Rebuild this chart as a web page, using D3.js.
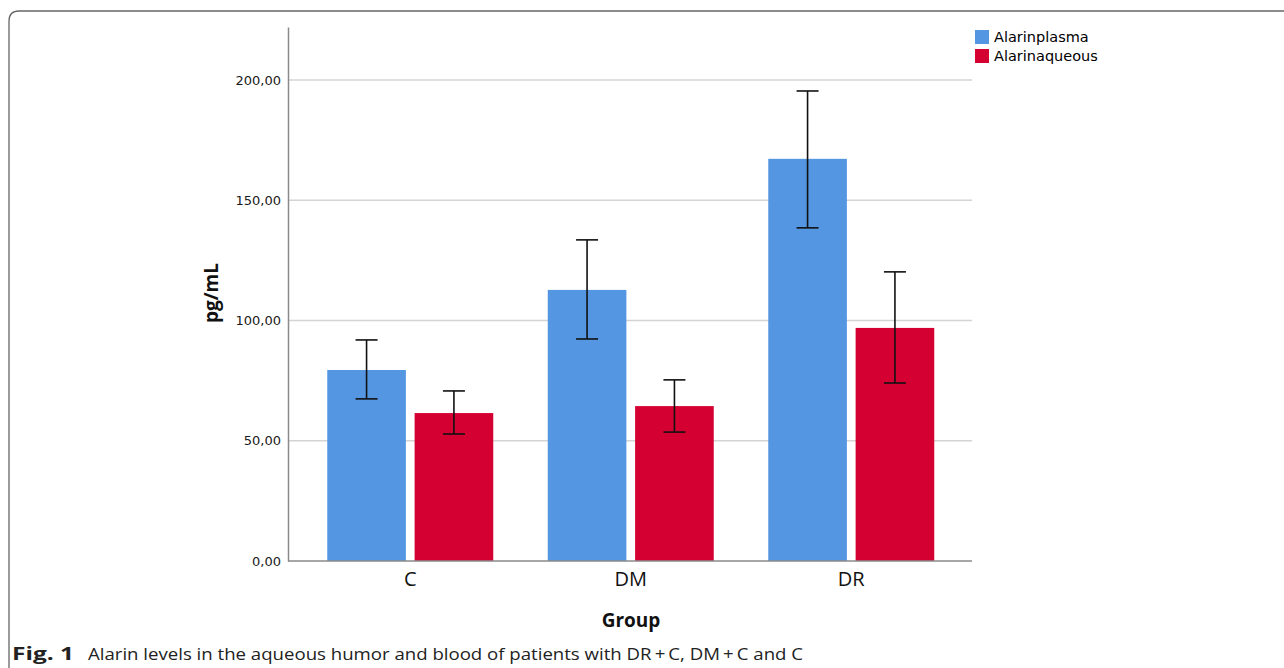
<!DOCTYPE html>
<html>
<head>
<meta charset="utf-8">
<script src="https://cdn.jsdelivr.net/npm/d3@7"></script>
<style>
  body { margin: 0; background: #fff; }
  svg { display: block; }
</style>
</head>
<body>
<div id="chart"></div>
<script>
// data
var groups = ["C", "DM", "DR"];
var seriesNames = ["Alarinplasma", "Alarinaqueous"];
var plasmaMean = [79.4, 112.7, 167.2];
var plasmaLow = [67.4, 92.3, 138.5];
var plasmaHigh = [91.9, 133.5, 195.4];
var aqueousMean = [61.5, 64.4, 96.9];
var aqueousLow = [52.8, 53.6, 74.0];
var aqueousHigh = [70.7, 75.3, 120.2];
var yTicks = [0, 50, 100, 150, 200];

var colors = ["#5596e3", "#d50032"];

var svgWidth = 1284, svgHeight = 668;

var svg = d3.select("#chart").append("svg")
    .attr("width", svgWidth)
    .attr("height", svgHeight);

// frame around the figure
svg.append("path")
    .attr("d", "M9,700 L9,21 Q9,11 19,11 L1300,11")
    .attr("fill", "none")
    .attr("stroke", "#666")
    .attr("stroke-width", 1.3);

// scales
var x = d3.scaleBand().domain(groups).range([300, 961.5]);
var y = d3.scaleLinear().domain([0, 222]).range([561, 27]);

var table = groups.map(function(g, i) {
    return [
        { group: g, s: 0, mean: plasmaMean[i], lo: plasmaLow[i], hi: plasmaHigh[i] },
        { group: g, s: 1, mean: aqueousMean[i], lo: aqueousLow[i], hi: aqueousHigh[i] }
    ];
}).flat();

var sub = d3.scaleBand().domain([0, 1]).range([-83, 83]).paddingInner(0.1);

// gridlines
svg.append("g").selectAll("line")
    .data(yTicks.slice(1))
    .enter().append("line")
        .attr("x1", 289).attr("x2", 972)
        .attr("y1", function(d) { return y(d); })
        .attr("y2", function(d) { return y(d); })
        .attr("stroke", "#d4d4d4")
        .attr("stroke-width", 1.5);

// bars
svg.append("g").selectAll("rect")
    .data(table)
    .enter().append("rect")
        .attr("x", function(d) { return x(d.group) + x.bandwidth() / 2 + sub(d.s); })
        .attr("width", sub.bandwidth())
        .attr("y", function(d) { return y(d.mean); })
        .attr("height", function(d) { return y(0) - y(d.mean); })
        .attr("fill", function(d) { return colors[d.s]; });

// error bars
var err = svg.append("g").selectAll("g")
    .data(table)
    .enter().append("g")
        .attr("transform", function(d) {
            return "translate(" + (x(d.group) + x.bandwidth() / 2 + sub(d.s) + sub.bandwidth() / 2) + ",0)";
        });
err.append("line")
    .attr("y1", function(d) { return y(d.lo); })
    .attr("y2", function(d) { return y(d.hi); })
    .attr("stroke", "#111").attr("stroke-width", 1.6);
err.append("line")
    .attr("x1", -11).attr("x2", 11)
    .attr("y1", function(d) { return y(d.hi); })
    .attr("y2", function(d) { return y(d.hi); })
    .attr("stroke", "#111").attr("stroke-width", 1.6);
err.append("line")
    .attr("x1", -11).attr("x2", 11)
    .attr("y1", function(d) { return y(d.lo); })
    .attr("y2", function(d) { return y(d.lo); })
    .attr("stroke", "#111").attr("stroke-width", 1.6);

// y axis
var yAxis = d3.axisLeft(y).tickValues(yTicks).tickSize(0).tickPadding(7)
    .tickFormat(function(d) { return d3.format(".2f")(d).replace(".", ","); });
var yg = svg.append("g")
    .attr("transform", "translate(288,0)")
    .call(yAxis);
yg.select(".domain").attr("stroke", "#8a8a8a").attr("stroke-width", 1.5);
yg.selectAll("text")
    .attr("font-family", "DejaVu Sans")
    .attr("font-size", 13)
    .attr("fill", "#1a1a1a");

// x axis
var xAxis = d3.axisBottom(x).tickSize(0).tickPadding(11);
var xg = svg.append("g")
    .attr("transform", "translate(0,561)")
    .call(xAxis);
xg.select(".domain").attr("d", "M288,0H972").attr("stroke", "#8a8a8a").attr("stroke-width", 1.5);
xg.selectAll("text")
    .attr("font-family", "Open Sans")
    .attr("font-size", 20)
    .attr("fill", "#111");

// axis titles
svg.append("text")
    .attr("transform", "translate(218,293) rotate(-90)")
    .attr("text-anchor", "middle")
    .attr("font-family", "Open Sans")
    .attr("font-weight", "bold")
    .attr("font-size", 19)
    .attr("fill", "#111")
    .text("pg/mL");
svg.append("text")
    .attr("x", 631).attr("y", 627)
    .attr("text-anchor", "middle")
    .attr("font-family", "Open Sans")
    .attr("font-weight", "bold")
    .attr("font-size", 19)
    .attr("fill", "#111")
    .text("Group");

// legend
var legend = svg.append("g").selectAll("g")
    .data(seriesNames)
    .enter().append("g")
        .attr("transform", function(d, i) { return "translate(975," + (30 + i * 19) + ")"; });
legend.append("rect")
    .attr("width", 14).attr("height", 14)
    .attr("fill", function(d, i) { return colors[i]; });
legend.append("text")
    .attr("x", 19).attr("y", 12)
    .attr("font-family", "DejaVu Sans")
    .attr("font-size", 14.5)
    .attr("fill", "#000")
    .text(function(d) { return d; });

// caption
var cap = svg.append("text")
    .attr("x", 12).attr("y", 660)
    .attr("font-family", "Open Sans")
    .attr("font-size", 17)
    .attr("fill", "#222");
cap.append("tspan")
    .attr("font-weight", "bold")
    .attr("textLength", 62)
    .attr("lengthAdjust", "spacingAndGlyphs")
    .text("Fig. 1");
cap.append("tspan")
    .attr("x", 88)
    .attr("textLength", 715)
    .attr("lengthAdjust", "spacingAndGlyphs")
    .text("Alarin levels in the aqueous humor and blood of patients with DR\u2009+\u2009C, DM\u2009+\u2009C and C");
</script>
</body>
</html>
